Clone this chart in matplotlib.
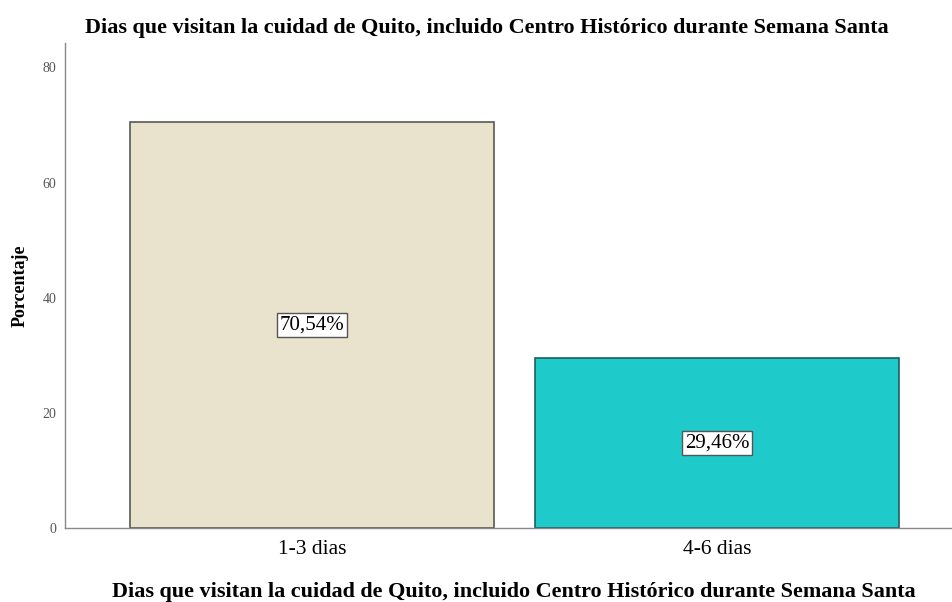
import matplotlib

matplotlib.use("Agg")
import matplotlib.pyplot as plt

plt.rcParams["font.family"] = ["Liberation Serif", "DejaVu Serif"]

categories = ["1-3 dias", "4-6 dias"]
percentages = [70.54, 29.46]
labels = ["70,54%", "29,46%"]
bar_colors = ["#e9e3cd", "#1fcacb"]
edge_colors = ["#5a5a50", "#1f5f5f"]
yticks = [0, 20, 40, 60, 80]
title = "Dias que visitan la cuidad de Quito, incluido Centro Histórico durante Semana Santa"

fig = plt.figure(figsize=(9.52, 6.02), dpi=100)
ax = fig.add_axes([0.068, 0.123, 0.932, 0.806])

x = list(range(len(categories)))
ax.bar(x, percentages, width=0.9, color=bar_colors, edgecolor=edge_colors, linewidth=1.2)

for xi, val, lab in zip(x, percentages, labels):
    ax.text(
        xi, val / 2, lab, ha="center", va="center", fontsize=15,
        bbox=dict(boxstyle="square,pad=0.12", facecolor="white", edgecolor="#555555", linewidth=1),
    )

ax.set_xlim(-0.61, 1.58)
ax.set_ylim(0, 84.3)
ax.set_xticks(x)
ax.set_xticklabels(categories, fontsize=15.5)
ax.set_yticks(yticks)
ax.set_yticklabels([str(t) for t in yticks], fontsize=10, color="#555555")
ax.tick_params(axis="x", length=0, pad=9)
ax.tick_params(axis="y", length=0, pad=6)

for side in ["top", "right"]:
    ax.spines[side].set_visible(False)
for side in ["left", "bottom"]:
    ax.spines[side].set_color("#888888")
    ax.spines[side].set_linewidth(1)

ax.set_ylabel("Porcentaje", fontsize=13, fontweight="bold", labelpad=10)
# title on top and the same text as category axis caption below
fig.text(0.540, 0.009, title, ha="center", va="baseline", fontsize=15.9, fontweight="bold")
fig.text(0.511, 0.945, title, ha="center", va="baseline", fontsize=15.9, fontweight="bold")

fig.savefig("out.png", dpi=100)
